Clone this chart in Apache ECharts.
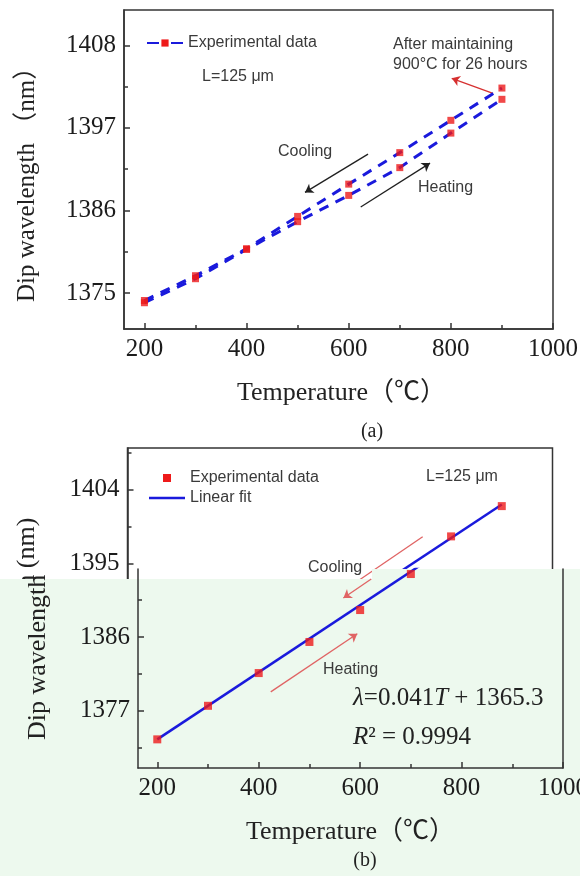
<!DOCTYPE html>
<html>
<head>
<meta charset="utf-8">
<script src="https://cdn.jsdelivr.net/npm/echarts@6/dist/echarts.min.js"></script>
<style>
html, body { margin: 0; padding: 0; background: #fff; }
#chart { width: 580px; height: 876px; }
</style>
</head>
<body>
<div id="chart"></div>
<script>
// ---- Panel (a): dip wavelength over a heating / cooling cycle ----
const temperaturesA = [200, 300, 400, 500, 600, 700, 800, 900];
const heatingA = [1373.7, 1376.9, 1380.8, 1384.5, 1388.0, 1391.7, 1396.3, 1400.8];
const coolingA = [1374.0, 1377.3, 1380.9, 1385.2, 1389.5, 1393.7, 1398.0, 1402.3];

// ---- Panel (b): measured dips and the linear fit ----
const temperaturesB = [200, 300, 400, 500, 600, 700, 800, 900];
const dipB = [1373.5, 1377.6, 1381.6, 1385.4, 1389.3, 1393.7, 1398.3, 1402.0];
const fitSlope = 0.041;
const fitIntercept = 1365.3;
const fitSpan = [200, 900];

// ---- Tick values ----
const xTickLabels = [200, 400, 600, 800, 1000];
const xMinorTicks = [300, 500, 700, 900];
const yTickLabelsA = [1375, 1386, 1397, 1408];
const yMinorTicksA = [1380.5, 1391.5, 1402.5];
const yTickLabelsB = [1377, 1386, 1395, 1404];
const yMinorTicksB = [1372.5, 1381.5, 1390.5, 1399.5, 1408.5];

// ---- Annotation arrows (data coordinates, tail -> head) ----
const coolArrowA = [[637.8, 1393.5], [514.4, 1388.4]];
const heatArrowA = [[623.5, 1386.45], [759.2, 1392.3]];
const holdArrowA = [[882.5, 1401.6], [801.7, 1403.6]];
const coolArrowB = [[744, 1398.26], [567, 1390.77]];
const heatArrowB = [[423.7, 1379.3], [594.4, 1386.4]];

// ---- Layout ----
const SERIF = "'Liberation Serif', 'Times New Roman', 'Noto Sans CJK SC', serif";
const SANS = "'Liberation Sans', Arial, sans-serif";
const AXIS_COLOR = '#343434';
const LABEL_COLOR = '#1c1c1c';
const NOTE_COLOR = '#3a3a3a';
const BLUE = '#1a1adc';
const RED = '#ee1a1a';
const SOFT_RED = '#e06464';
const MINT = '#edf9ee';

const gridA = { left: 124, top: 10, width: 429, height: 319 };
const xRangeA = [160, 1000];
const yRangeA = [1370.2, 1412.7];

const gridBTop = 448, gridBHeight = 320, gridBWidth = 425;
const gridB1Left = 127.5;   // upper (white) part of panel (b)
const gridB2Left = 138;     // lower (tinted) part of panel (b)
const bandTopRight = 569, bandTopLeft = 579, bandStepX = 372;
const xRangeB = [162, 1000];
const yRangeB = [1370, 1409.1];
const yAtPixelB = py => yRangeB[1] - (py - gridBTop) / gridBHeight * (yRangeB[1] - yRangeB[0]);
const yRangeB2 = [yRangeB[0], yAtPixelB(bandTopRight)];

const within = (vals, r) => vals.filter(v => v >= r[0] - 1e-9 && v <= r[1] + 1e-9);
const pairs = (xs, ys) => xs.map((x, i) => [x, ys[i]]);
const fitLine = fitSpan.map(t => [t, +(fitSlope * t + fitIntercept).toFixed(3)]);
const plain = v => String(v);

// part of the cooling arrow of panel (b) that lies inside the tinted band
function clipArrowBelow(arrow, yLimit) {
  const [[x0, y0], [x1, y1]] = arrow;
  const t = (y0 - yLimit) / (y0 - y1);
  return [[x0 + (x1 - x0) * t, yLimit], [x1, y1]];
}
const coolArrowBLower = clipArrowBelow(coolArrowB, yAtPixelB(bandTopLeft));

function arrowData(list) {
  return list.map(a => [{ coord: a[0] }, { coord: a[1] }]);
}

function xAxes(gridIndex, range, z) {
  return [
    {
      type: 'value', gridIndex, position: 'bottom', min: range[0], max: range[1], z,
      axisLine: { show: true, onZero: false, lineStyle: { color: AXIS_COLOR, width: 1.5 } },
      axisTick: { show: true, inside: true, length: 6, customValues: within(xTickLabels, range),
        lineStyle: { color: AXIS_COLOR, width: 1.5 } },
      axisLabel: { show: true, customValues: within(xTickLabels, range), margin: 8, formatter: plain,
        fontFamily: SERIF, fontSize: 25, color: LABEL_COLOR },
      splitLine: { show: false }
    },
    {
      type: 'value', gridIndex, position: 'bottom', min: range[0], max: range[1], z,
      axisLine: { show: false, onZero: false },
      axisTick: { show: true, inside: true, length: 4, customValues: within(xMinorTicks, range),
        lineStyle: { color: AXIS_COLOR, width: 1.5 } },
      axisLabel: { show: false },
      splitLine: { show: false }
    }
  ];
}

function yAxes(gridIndex, range, labels, minor, z) {
  return [
    {
      type: 'value', gridIndex, position: 'left', min: range[0], max: range[1], z,
      axisLine: { show: true, onZero: false, lineStyle: { color: AXIS_COLOR, width: 1.5 } },
      axisTick: { show: true, inside: true, length: 6, customValues: within(labels, range),
        lineStyle: { color: AXIS_COLOR, width: 1.5 } },
      axisLabel: { show: true, customValues: within(labels, range), margin: 8, formatter: plain,
        fontFamily: SERIF, fontSize: 25, color: LABEL_COLOR },
      splitLine: { show: false }
    },
    {
      type: 'value', gridIndex, position: 'left', min: range[0], max: range[1], z,
      axisLine: { show: false, onZero: false },
      axisTick: { show: true, inside: true, length: 4, customValues: within(minor, range),
        lineStyle: { color: AXIS_COLOR, width: 1.5 } },
      axisLabel: { show: false },
      splitLine: { show: false }
    }
  ];
}

const xAxis = [
  ...xAxes(0, xRangeA, 0),
  ...xAxes(1, xRangeB, 0),
  ...xAxes(2, xRangeB, 5)
];
const yAxis = [
  ...yAxes(0, yRangeA, yTickLabelsA, yMinorTicksA, 0),
  ...yAxes(1, yRangeB, yTickLabelsB, yMinorTicksB, 0),
  ...yAxes(2, yRangeB2, yTickLabelsB, yMinorTicksB, 5),
  {
    type: 'value', gridIndex: 2, position: 'right', min: yRangeB2[0], max: yRangeB2[1], z: 5,
    axisLine: { show: true, onZero: false, lineStyle: { color: AXIS_COLOR, width: 1.5 } },
    axisTick: { show: false }, axisLabel: { show: false }, splitLine: { show: false }
  }
];

const grid = [
  { ...gridA, show: true, borderColor: AXIS_COLOR, borderWidth: 1.5, containLabel: false, outerBoundsMode: 'none' },
  { left: gridB1Left, top: gridBTop, width: gridBWidth, height: gridBHeight, show: true,
    borderColor: AXIS_COLOR, borderWidth: 1.5, containLabel: false, outerBoundsMode: 'none', z: 0 },
  { left: gridB2Left, top: bandTopRight, width: gridBWidth, height: gridBTop + gridBHeight - bandTopRight,
    show: false, containLabel: false, outerBoundsMode: 'none' }
];

const dashed = { color: BLUE, width: 3, type: [10, 8] };

function arrowMark(list, color, z) {
  return {
    silent: true, z,
    symbol: ['none', 'arrow'], symbolSize: 8,
    label: { show: false },
    lineStyle: { color, width: 1.3, type: 'solid' },
    emphasis: { disabled: true },
    data: arrowData(list)
  };
}

const series = [
  // panel (a)
  { name: 'Experimental data', type: 'line', xAxisIndex: 0, yAxisIndex: 0,
    data: pairs(temperaturesA, heatingA), symbol: 'rect', showSymbol: false,
    itemStyle: { color: RED }, lineStyle: dashed, z: 2,
    markLine: Object.assign(arrowMark([coolArrowA, heatArrowA], '#202020', 2),
      { data: arrowData([coolArrowA, heatArrowA]).concat(
          [[{ coord: holdArrowA[0], lineStyle: { color: '#d63030' } }, { coord: holdArrowA[1] }]]) }) },
  { name: 'Experimental data', type: 'line', xAxisIndex: 0, yAxisIndex: 0,
    data: pairs(temperaturesA, coolingA), symbol: 'rect', showSymbol: false,
    itemStyle: { color: RED }, lineStyle: dashed, z: 2 },
  { name: 'Heating run', type: 'scatter', xAxisIndex: 0, yAxisIndex: 0,
    data: pairs(temperaturesA, heatingA), symbol: 'rect', symbolSize: 7,
    itemStyle: { color: RED }, z: 3 },
  { name: 'Cooling run', type: 'scatter', xAxisIndex: 0, yAxisIndex: 0,
    data: pairs(temperaturesA, coolingA), symbol: 'rect', symbolSize: 7,
    itemStyle: { color: RED }, z: 3 },

  // panel (b), upper part
  { name: 'Linear fit', type: 'line', xAxisIndex: 2, yAxisIndex: 2,
    data: fitLine, symbol: 'none', lineStyle: { color: BLUE, width: 2.5 },
    itemStyle: { color: BLUE }, z: 1,
    markLine: arrowMark([coolArrowB], SOFT_RED, 1) },
  { name: 'Experimental data', type: 'scatter', xAxisIndex: 2, yAxisIndex: 2,
    data: pairs(temperaturesB, dipB), symbol: 'rect', symbolSize: 8,
    itemStyle: { color: RED }, z: 1 },

  // panel (b), lower part
  { name: 'Linear fit', type: 'line', xAxisIndex: 4, yAxisIndex: 4,
    data: fitLine, symbol: 'none', lineStyle: { color: BLUE, width: 2.5 },
    itemStyle: { color: BLUE }, z: 5,
    markLine: arrowMark([coolArrowBLower, heatArrowB], SOFT_RED, 6) },
  { name: 'Experimental data', type: 'scatter', xAxisIndex: 4, yAxisIndex: 4,
    data: pairs(temperaturesB, dipB), symbol: 'rect', symbolSize: 8,
    itemStyle: { color: RED }, z: 6 }
];

const legendText = { fontFamily: SANS, fontSize: 16, color: NOTE_COLOR, lineHeight: 18 };
const legend = [
  { left: 146, top: 34, padding: 0, orient: 'vertical', selectedMode: false,
    itemWidth: 36, itemHeight: 9, data: ['Experimental data'],
    lineStyle: { type: [12, 12] }, textStyle: legendText },
  { left: 149, top: 469, padding: 0, orient: 'vertical', selectedMode: false, itemGap: 2,
    itemWidth: 36, itemHeight: 8,
    data: [
      { name: 'Experimental data', icon: 'path://M0,0H8V8H0Z', itemStyle: { color: RED, borderWidth: 0 } },
      { name: 'Linear fit', icon: 'path://M0,0H36V2.6H0Z', itemStyle: { color: BLUE, borderWidth: 0 } }
    ],
    textStyle: legendText }
];

function label(text, x, y, opts) {
  const o = opts || {};
  const align = o.align || 'left';
  return {
    type: 'text', x, y, z: o.z == null ? 1 : o.z, silent: true,
    rotation: o.rotation || 0,
    style: {
      text, fill: o.color || NOTE_COLOR,
      fontFamily: o.family || SANS, fontSize: o.size || 16,
      fontStyle: o.italic ? 'italic' : 'normal',
      textAlign: align, align, textVerticalAlign: 'middle', verticalAlign: 'middle',
      rich: o.rich
    }
  };
}

const mathRich = {
  i: { fontFamily: SERIF, fontSize: 25, fontStyle: 'italic', fill: '#222' },
  n: { fontFamily: SERIF, fontSize: 25, fill: '#222' }
};

const graphic = [
  // panel (a)
  label('L=125 \u03bcm', 202, 77),
  label('After maintaining', 393, 45),
  label('900\u00b0C for 26 hours', 393, 65),
  label('Cooling', 278, 152),
  label('Heating', 418, 188),
  label('Dip wavelength \uff08nm\uff09', 27, 302, { family: SERIF, size: 25, color: '#222', rotation: Math.PI / 2 }),
  label('Temperature\uff08\u2103\uff09', 237, 393, { family: SERIF, size: 26, color: '#222' }),
  label('(a)', 372, 432, { family: SERIF, size: 20, color: '#222', align: 'center' }),

  // panel (b), upper part
  label('L=125 \u03bcm', 426, 477),
  label('Cooling', 308, 568),
  label('Dip wavelength (nm)', 27.5, 740, { family: SERIF, size: 26, color: '#222', rotation: Math.PI / 2 }),

  // tinted band of panel (b)
  { type: 'polygon', z: 3, silent: true,
    shape: { points: [[0, bandTopLeft], [bandStepX, bandTopLeft], [bandStepX, bandTopRight],
      [580, bandTopRight], [580, 876], [0, 876]] },
    style: { fill: MINT } },

  // panel (b), lower part
  label('Heating', 323, 670, { z: 7 }),
  label('{i|\u03bb}{n|=0.041}{i|T}{n| + 1365.3}', 353, 698, { z: 7, family: SERIF, size: 25, rich: mathRich }),
  label('{i|R}{n|\u00b2 = 0.9994}', 353, 737, { z: 7, family: SERIF, size: 25, rich: mathRich }),
  label('Dip wavelength', 38, 740, { z: 7, family: SERIF, size: 26, color: '#222', rotation: Math.PI / 2 }),
  label('Temperature\uff08\u2103\uff09', 246, 832, { z: 7, family: SERIF, size: 26, color: '#222' }),
  label('(b)', 365, 861, { z: 7, family: SERIF, size: 20, color: '#222', align: 'center' })
];

const chart = echarts.init(document.getElementById('chart'), null, { renderer: 'canvas' });
chart.setOption({
  backgroundColor: '#ffffff',
  animation: false,
  grid, xAxis, yAxis, series, legend, graphic
});
</script>
</body>
</html>
